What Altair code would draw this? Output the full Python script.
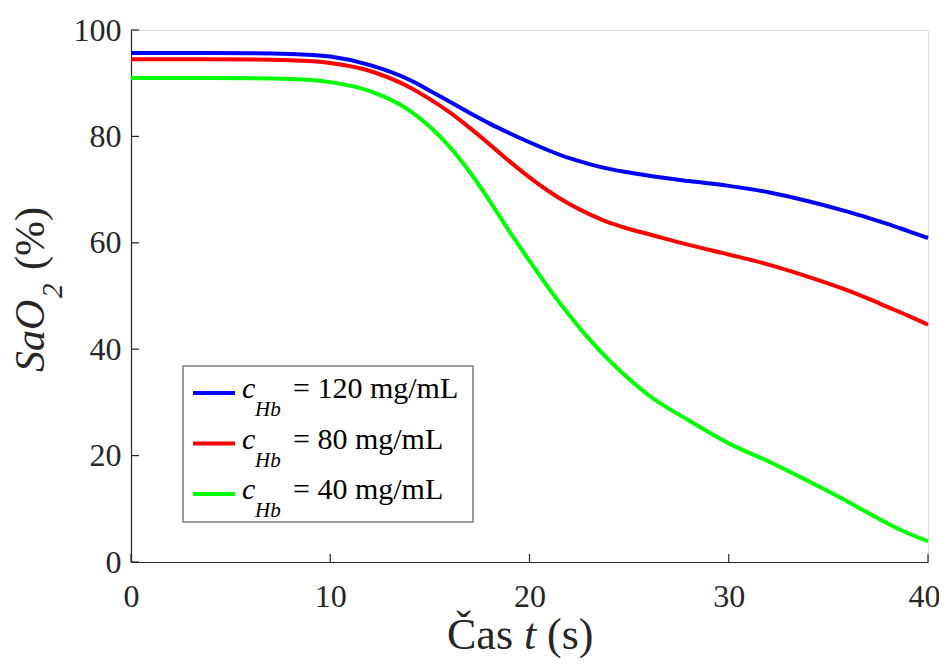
import altair as alt
import pandas as pd

# ---- data ----
t = [0, 4, 8, 10, 12, 14, 15, 16, 17, 18, 19, 20, 21, 22, 23, 24, 25, 26, 28, 30, 32, 34, 36, 37, 38, 39, 40]
sao2_120 = [95.7, 95.7, 95.5, 95.0, 93.4, 90.6, 88.6, 86.5, 84.4, 82.4, 80.6, 78.9, 77.3, 75.9, 74.8,
            73.9, 73.2, 72.6, 71.6, 70.7, 69.5, 67.8, 65.8, 64.7, 63.5, 62.2, 60.9]
sao2_80 = [94.5, 94.5, 94.3, 93.8, 92.3, 89.2, 87.0, 84.5, 81.6, 78.5, 75.3, 72.3, 69.6, 67.3, 65.4,
           63.8, 62.6, 61.6, 59.6, 57.8, 55.9, 53.6, 51.0, 49.5, 47.9, 46.3, 44.6]
sao2_40 = [91.0, 91.0, 90.8, 90.2, 88.5, 84.8, 81.8, 78.0, 73.3, 67.9, 62.1, 56.6, 51.3, 46.4, 41.9,
           37.9, 34.4, 31.3, 26.6, 22.3, 18.9, 15.2, 11.3, 9.2, 7.2, 5.4, 3.9]
series_labels = ["120", "80", "40"]
series_colors = ["#0000ff", "#ff0000", "#00ff00"]
x_ticks = [0, 10, 20, 30, 40]
y_ticks = [0, 20, 40, 60, 80, 100]
x_title = ["Čas", "t", "(s)"]
y_title = ["SaO", "2", "(%)"]
legend_sym = ["c", "Hb"]
unit = "mg/mL"

W, H = 797, 532
FONT = "Liberation Serif"
AX = "#262626"

rows = []
for lab, vals in zip(series_labels, [sao2_120, sao2_80, sao2_40]):
    for ti, v in zip(t, vals):
        rows.append({"t": ti, "v": v, "s": lab})
df = pd.DataFrame(rows)

xs = alt.Scale(domain=[0, 40], nice=False, zero=False)
ys = alt.Scale(domain=[0, 100], nice=False, zero=False)

x_axis = alt.Axis(values=x_ticks, ticks=False, tickSize=0, grid=False, title=None,
                  labelFont=FONT, labelFontSize=32, labelColor=AX, labelPadding=19,
                  labelOffset=alt.condition("datum.value == 40", alt.value(-4), alt.value(0)),
                  labelFlush=False, labelOverlap=False, domainColor=AX, domainWidth=1.2)
y_axis = alt.Axis(values=y_ticks, ticks=False, tickSize=0, grid=False, title=None,
                  labelFont=FONT, labelFontSize=32, labelColor=AX, labelPadding=10,
                  labelFlush=False, labelOverlap=False, domainColor=AX, domainWidth=1.2)

lines = alt.Chart(df).mark_line(strokeWidth=4, interpolate="monotone").encode(
    x=alt.X("t:Q", scale=xs, axis=x_axis),
    y=alt.Y("v:Q", scale=ys, axis=y_axis),
    color=alt.Color("s:N", scale=alt.Scale(domain=series_labels, range=series_colors), legend=None),
)

xt = alt.Chart(pd.DataFrame({"t": x_ticks})).mark_rule(color=AX, strokeWidth=1.2).encode(
    x=alt.X("t:Q", scale=xs), y=alt.value(H), y2=alt.value(H - 8))
yt = alt.Chart(pd.DataFrame({"v": y_ticks})).mark_rule(color=AX, strokeWidth=1.2).encode(
    y=alt.Y("v:Q", scale=ys), x=alt.value(0), x2=alt.value(8))


def seg(text, x, y, size, italic=False, angle=0, color="black"):
    kw = dict(align="left", baseline="alphabetic", font=FONT, fontSize=size, color=color)
    if italic:
        kw["fontStyle"] = "italic"
    if angle:
        kw["angle"] = angle
    return alt.Chart(pd.DataFrame({"txt": [text]})).mark_text(**kw).encode(
        text="txt:N", x=alt.value(x), y=alt.value(y))


layers = [lines, xt, yt]

# x-axis title: "Čas t (s)"
xs0, xb, xf = 316, 619, 44
layers += [
    seg(x_title[0], xs0, xb, xf, color=AX),
    seg(x_title[1], xs0 + 77, xb, xf, italic=True, color=AX),
    seg(x_title[2], xs0 + 100, xb, xf, color=AX),
]
# y-axis title (rotated): "SaO2 (%)"
yb, ys0, yf = -87, 342, 42
layers += [
    seg(y_title[0], yb, ys0, yf, italic=True, angle=270, color=AX),
    seg(y_title[1], yb + 18, ys0 - 74, 29, italic=True, angle=270, color=AX),
    seg(y_title[2], yb, ys0 - 102, yf, angle=270, color=AX),
]

# legend box
box = alt.Chart(pd.DataFrame({"a": [0]})).mark_rect(fill="white", stroke="#7f7f7f", strokeWidth=1.5).encode(
    x=alt.value(52), x2=alt.value(342), y=alt.value(336), y2=alt.value(492))
layers.append(box)
for i, (lab, col) in enumerate(zip(series_labels, series_colors)):
    ly = 363 + i * 50.5
    layers.append(alt.Chart(pd.DataFrame({"a": [0]})).mark_rule(color=col, strokeWidth=4).encode(
        x=alt.value(62), x2=alt.value(104), y=alt.value(ly)))
    layers.append(seg(legend_sym[0], 111, ly + 5, 30, italic=True))
    layers.append(seg(legend_sym[1], 124, ly + 23, 21, italic=True))
    layers.append(seg(f"= {lab} {unit}", 162, ly + 5, 30))

chart = alt.layer(*layers).properties(
    width=W, height=H,
    padding={"left": 123, "top": 22, "right": 11, "bottom": 96},
    autosize=alt.AutoSizeParams(type="none"),
).configure_view(stroke=None).configure(background="white")

chart.save("out.html", embed_options={"renderer": "svg", "actions": False})
